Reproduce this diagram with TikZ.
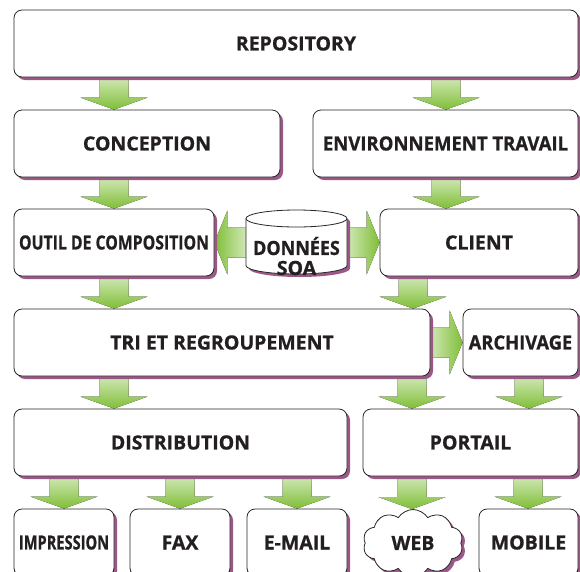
\documentclass[tikz,border=0pt]{standalone}
\usepackage{fontspec}
\setmainfont{Open Sans}[BoldFeatures={FakeBold=0.8}]
\usetikzlibrary{shapes.symbols,shadows,backgrounds,calc}

\definecolor{sombra}{RGB}{155,88,135}
\definecolor{verdeclaro}{RGB}{208,232,182}
\definecolor{verdeoscuro}{RGB}{128,190,55}
\definecolor{texto}{RGB}{35,31,32}

\tikzset{
  caja/.style={draw=black!85, line width=0.8pt, rounded corners=8pt, fill=white,
    minimum height=67pt, inner sep=1pt, text=texto, align=center,
    font=\bfseries\fontsize{19.5}{21}\selectfont,
    drop shadow={shadow xshift=3pt, shadow yshift=-3pt, fill=sombra, opacity=1}},
  nube/.style={cloud, cloud puffs=10, cloud puff arc=115, cloud ignores aspect,
    draw=black!85, line width=0.8pt, fill=white, minimum width=100pt, minimum height=67pt,
    inner sep=1pt, text=texto, font=\bfseries\fontsize{19.5}{21}\selectfont,
    drop shadow={shadow xshift=3pt, shadow yshift=-3pt, fill=sombra, opacity=1}},
  flechav/.style={top color=verdeclaro, bottom color=verdeoscuro},
  flechader/.style={left color=verdeclaro, right color=verdeoscuro},
  flechaizq/.style={left color=verdeoscuro, right color=verdeclaro}
}

% texto estrecho
\newcommand{\estrecho}[2]{\scalebox{#1}[1]{#2}}

% flecha hacia abajo de #1 a #2 en x=#3
\newcommand{\flechabajo}[3]{%
  \fill[flechav] let \p1=(#1.south), \p2=(#2.north) in
    (#3pt-14.5pt,\y1) -- (#3pt+14.5pt,\y1) -- (#3pt+14.5pt,\y2+12pt) -- (#3pt+33.5pt,\y2+12pt)
    -- (#3pt,\y2) -- (#3pt-33.5pt,\y2+12pt) -- (#3pt-14.5pt,\y2+12pt) -- cycle;}

% flecha lateral de #1 a #2, sombreado #3
\newcommand{\flechalado}[3]{%
  \fill[#3] let \p1=(#1), \p2=(#2), \n1={sign(\x1-\x2)} in
    (\x1,\y2+15pt) -- (\x2+13pt*\n1,\y2+15pt) -- (\x2+13pt*\n1,\y2+32pt) -- (\x2,\y2)
    -- (\x2+13pt*\n1,\y2-32pt) -- (\x2+13pt*\n1,\y2-15pt) -- (\x1,\y2-15pt) -- cycle;}

\begin{document}
\begin{tikzpicture}[x=1pt,y=-1pt]
  \useasboundingbox (0,0) rectangle (580,571);
  \clip (0,0) rectangle (580,571);

  % Cajas
  \node[caja, minimum width=564pt] (repository) at (296,43.5) {REPOSITORY};
  \node[caja, minimum width=266pt] (conception) at (147,143.5) {CONCEPTION};
  \node[caja, minimum width=265pt] (environnement) at (445.5,143.5) {\estrecho{0.95}{ENVIRONNEMENT TRAVAIL}};
  \node[caja, minimum width=200pt] (outil) at (114,242.5) {\estrecho{0.81}{OUTIL DE COMPOSITION}};
  \node[caja, minimum width=198pt] (client) at (479,242.5) {CLIENT};
  \node[caja, minimum width=416pt] (tri) at (222,342.5) {TRI ET REGROUPEMENT};
  \node[caja, minimum width=115pt] (archivage) at (520.5,342.5) {\estrecho{0.94}{ARCHIVAGE}};
  \node[caja, minimum width=333pt] (distribution) at (180.5,442.5) {DISTRIBUTION};
  \node[caja, minimum width=215pt] (portail) at (470.5,442.5) {PORTAIL};
  \node[caja, minimum width=100pt] (impression) at (64,542.5) {\estrecho{0.75}{IMPRESSION}};
  \node[caja, minimum width=100pt] (fax) at (180,542.5) {FAX};
  \node[caja, minimum width=100pt] (email) at (297,542.5) {E-MAIL};
  \node[nube] (web) at (413,543) {WEB};
  \node[caja, minimum width=99pt] (mobile) at (528.5,542.5) {MOBILE};

  % Base de datos
  \draw[draw=black!85, line width=0.8pt, fill=white,
    drop shadow={shadow xshift=3pt, shadow yshift=-3pt, fill=sombra, opacity=1}]
    (246,218.5) -- (246,265.5) arc[start angle=180, end angle=360, x radius=50.5pt, y radius=8.5pt]
    -- (347,218.5) arc[start angle=0, end angle=180, x radius=50.5pt, y radius=8.5pt] -- cycle;
  \draw[draw=black!85, line width=0.8pt] (246,218.5)
    arc[start angle=180, end angle=360, x radius=50.5pt, y radius=8.5pt];
  \node[minimum width=101pt, inner sep=0pt, text=texto, align=center,
    font=\bfseries\fontsize{19.5}{20}\selectfont] (soa) at (296.5,256) {\estrecho{0.92}{DONNÉES}\\SOA};

  % Flechas
  \begin{pgfonlayer}{background}
    \flechabajo{repository}{conception}{114}
    \flechabajo{repository}{environnement}{446}
    \flechabajo{conception}{outil}{114}
    \flechabajo{environnement}{client}{446}
    \flechabajo{outil}{tri}{114}
    \flechabajo{client}{tri}{413}
    \flechabajo{tri}{distribution}{114}
    \flechabajo{tri}{portail}{412}
    \flechabajo{archivage}{portail}{529}
    \flechabajo{distribution}{impression}{64}
    \flechabajo{distribution}{fax}{180}
    \flechabajo{distribution}{email}{297}
    \flechabajo{portail}{web}{412}
    \flechabajo{portail}{mobile}{528}
    \flechalado{soa.west}{outil.east}{flechaizq}
    \flechalado{soa.east}{client.west}{flechader}
    \flechalado{tri.east}{archivage.west}{flechader}
  \end{pgfonlayer}
\end{tikzpicture}
\end{document}
